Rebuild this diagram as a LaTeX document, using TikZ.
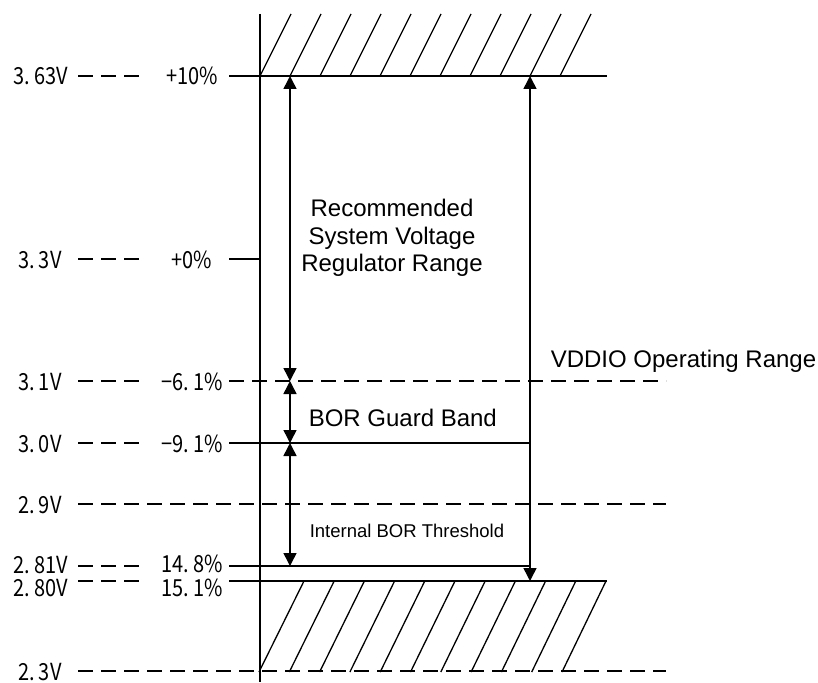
\documentclass[tikz,border=0pt]{standalone}
\usepackage{fontspec}
\setmainfont{Liberation Sans}
\newfontfamily\cjkfont[FakeStretch=0.85]{Noto Sans CJK SC}
\usetikzlibrary{arrows.meta}

\begin{document}
\begin{tikzpicture}[x=1pt, y=-1pt, line width=1.5pt,
    lvl/.style={font=\cjkfont\fontsize{23.5}{23.5}\selectfont, inner sep=0pt, anchor=base},
    txt/.style={font=\fontsize{24}{27.5}\selectfont, inner sep=0pt},
    gap/.style={dash pattern=on 14.5pt off 8.5pt},
    hatch/.style={line width=1.3pt},
    rng/.style={{Triangle[length=13pt,width=13pt]}-{Triangle[length=13pt,width=13pt]}}]
    \useasboundingbox (0,0) rectangle (818,682);

    % Voltage and percent labels
    \node[lvl] (v363) at (41,85) {3.\,63V};
    \node[lvl] (p10)  at (192,85) {+10\%};
    \node[lvl] (v33)  at (40,268) {3.\,3V};
    \node[lvl] (p0)   at (192,268) {+0\%};
    \node[lvl] (v31)  at (40,390) {3.\,1V};
    \node[lvl] (p61)  at (192,390) {\char"2212 6.\,1\%};
    \node[lvl] (v30)  at (40,452) {3.\,0V};
    \node[lvl] (p91)  at (192,452) {\char"2212 9.\,1\%};
    \node[lvl] (v29)  at (40,513) {2.\,9V};
    \node[lvl] (v281) at (41,573) {2.\,81V};
    \node[lvl] (p148) at (192,572) {14.\,8\%};
    \node[lvl] (v280) at (41,596) {2.\,80V};
    \node[lvl] (p151) at (192,596) {15.\,1\%};
    \node[lvl] (v23)  at (40,680) {2.\,3V};

    % Short dashes between the labels
    \foreach \y in {76,259,381,443,566,581}
        \draw[gap] (78,\y) -- (139,\y);

    % Axis
    \coordinate (axtop) at (260,14);
    \coordinate (axbot) at (260,682);
    \draw (axtop) -- (axbot);

    % Level lines
    \draw (229,76) -- (607,76);
    \draw (229,259) -- (260,259);
    \draw[gap] (229,381) -- (666,381);
    \draw (229,443) -- (531,443);
    \draw[gap] (78,504) -- (666,504);
    \draw (229,566) -- (531,566);
    \draw (229,581) -- (607,581);
    \draw[gap] (78,671) -- (666,671);

    % Hatching above and below
    \foreach \k in {0,...,10} {
        \draw[hatch] (260+30*\k,76) -- (291+30*\k,14);
        \draw[hatch] (259+30.3*\k,672) -- (304+30.2*\k,581);
    }

    % Range arrows
    \coordinate (a1) at (290,76);
    \coordinate (a2) at (290,381);
    \coordinate (a3) at (290,443);
    \coordinate (a4) at (290,566);
    \coordinate (b1) at (530,76);
    \coordinate (b2) at (530,581);
    \draw[rng] (a1) -- (a2);
    \draw[rng] (a2) -- (a3);
    \draw[rng] (a3) -- (a4);
    \draw[rng] (b1) -- (b2);

    % Range texts
    \node[txt, align=center] (rec) at (392,238) {Recommended\\System Voltage\\Regulator Range};
    \node[txt, anchor=base west] (vdd) at (550,367) {VDDIO Operating Range};
    \node[txt, anchor=base west] (bor) at (308,426) {BOR Guard Band};
    \node[txt, anchor=base west, font=\fontsize{18.5}{18.5}\selectfont] (thr) at (309,537) {Internal BOR Threshold};
\end{tikzpicture}
\end{document}
